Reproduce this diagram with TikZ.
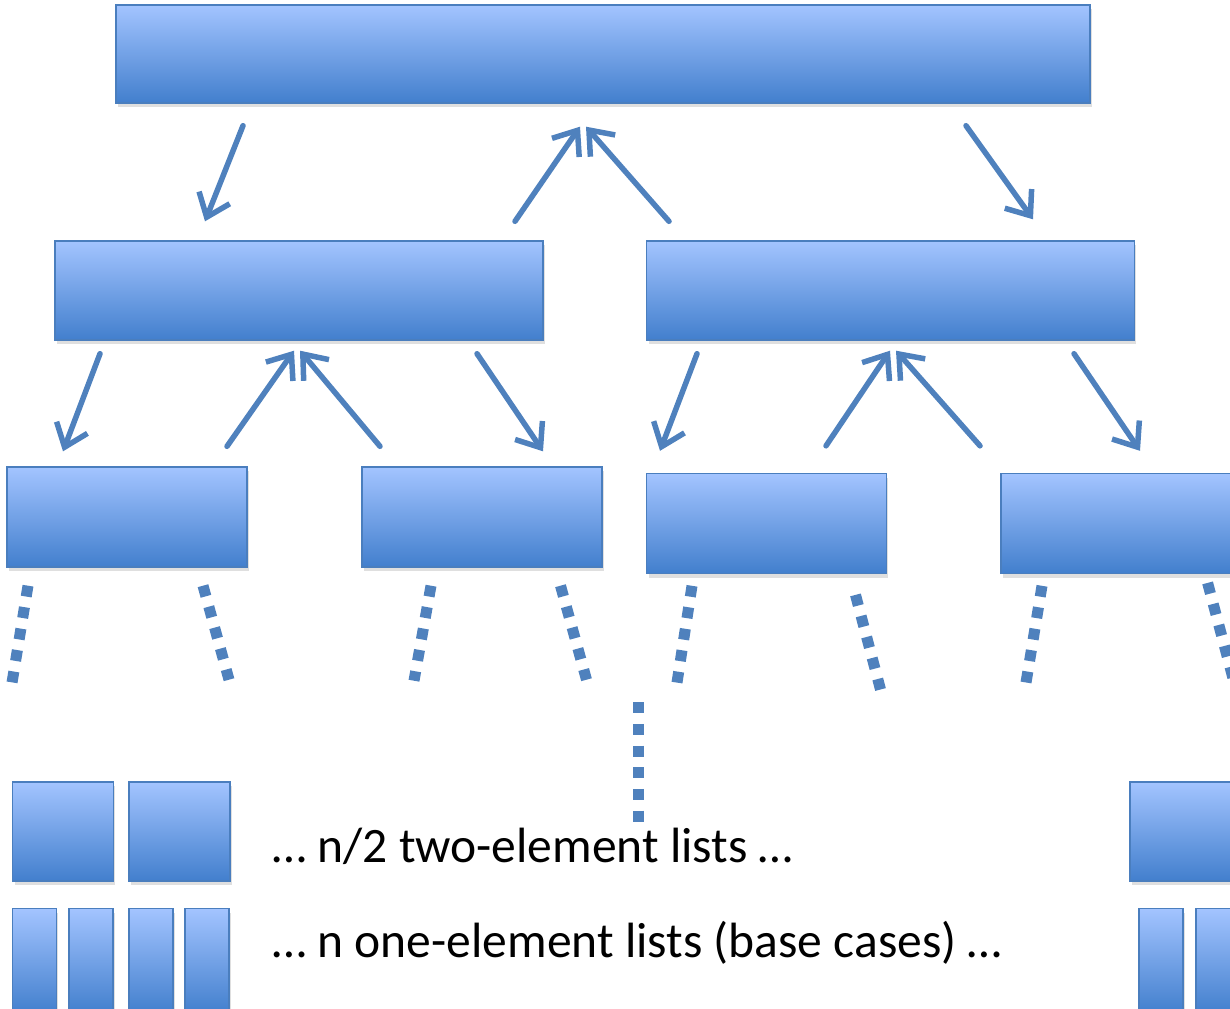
\documentclass[tikz,border=0pt]{standalone}
\usepackage{fontspec}
\setmainfont{Carlito}
\usepackage{tikz}
\usetikzlibrary{arrows.meta,calc,shadows}
\definecolor{boxtop}{RGB}{163,196,255}
\definecolor{boxbot}{RGB}{66,127,205}
\definecolor{boxedge}{RGB}{74,126,190}
\definecolor{arrowblue}{RGB}{79,129,189}

\begin{document}
\begin{tikzpicture}[x=0.02cm, y=-0.02cm, >={Straight Barb[length=0.42cm,width=0.66cm]}]
  \tikzstyle{box}=[draw=boxedge, line width=0.8pt, top color=boxtop, bottom color=boxbot, inner sep=0pt, drop shadow={shadow xshift=0.04cm, shadow yshift=-0.08cm, opacity=0.25}]
  \tikzstyle{arr}=[->, draw=arrowblue, line width=0.11cm, line cap=round]
  \tikzstyle{dots}=[draw=arrowblue, line width=0.22cm, dash pattern=on 0.22cm off 0.215cm]
  \clip (0,0) rectangle (1230,1008);

  % whole list and its two halves
  \node[box, minimum width=19.48cm, minimum height=1.96cm] (top) at (603,54) {};
  \node[box, minimum width=9.76cm, minimum height=1.98cm] (left) at (299,290.5) {};
  \node[box, minimum width=9.76cm, minimum height=1.98cm] (right) at (890.5,290.5) {};

  % quarters
  \node[box, minimum width=4.8cm, minimum height=2cm] (ll) at (127,517) {};
  \node[box, minimum width=4.8cm, minimum height=2cm] (lr) at (482,517) {};
  \node[box, minimum width=4.8cm, minimum height=2cm] (rl) at (766.5,523.5) {};
  \node[box, minimum width=4.8cm, minimum height=2cm] (rr) at (1121,523.5) {};

  % base level
  \foreach \x [count=\i] in {63,179.5,1180.5}
    \node[box, minimum width=2.02cm, minimum height=1.98cm] (two\i) at (\x,831.5) {};
  \foreach \x [count=\i] in {34.5,91,151,207,1161,1218}
    \node[box, minimum width=0.88cm, minimum height=2.1cm] (one\i) at (\x,961) {};

  \node[anchor=base west, font=\fontsize{28.2}{32}\selectfont] (twolabel) at (266,862) {… n/2 two-element lists …};
  \node[anchor=base west, font=\fontsize{28.2}{32}\selectfont] (onelabel) at (266,957) {… n one-element lists (base cases) …};

  % split and merge
  \draw[arr] ($(top.south)+(-360,22)$) -- ($(left.north)+(-94,-19)$);
  \draw[arr] ($(left.north)+(216,-19)$) -- ($(top.south)+(-23,23)$);
  \draw[arr] ($(right.north)+(-221.5,-19)$) -- ($(top.south)+(-17,23)$);
  \draw[arr] ($(top.south)+(363,22)$) -- ($(right.north)+(142.5,-21)$);

  \draw[arr] ($(left.south)+(-199,13)$) -- ($(ll.north)+(-64,-15)$);
  \draw[arr] ($(ll.north)+(100,-20)$) -- ($(left.south)+(-5,10)$);
  \draw[arr] ($(lr.north)+(-102,-20)$) -- ($(left.south)+(1,10)$);
  \draw[arr] ($(left.south)+(178,13)$) -- ($(lr.north)+(61,-15)$);

  \draw[arr] ($(right.south)+(-193.5,13)$) -- ($(rl.north)+(-106.5,-22)$);
  \draw[arr] ($(rl.north)+(59.5,-27)$) -- ($(right.south)+(-0.5,10)$);
  \draw[arr] ($(rr.north)+(-141,-27)$) -- ($(right.south)+(5.5,10)$);
  \draw[arr] ($(right.south)+(183.5,13)$) -- ($(rr.north)+(19,-22)$);

  % further levels
  \draw[dots] ($(ll.south)+(-99,18)$) -- ($(ll.south)+(-115,115)$);
  \draw[dots] ($(ll.south)+(76,18)$) -- ($(ll.south)+(102,112)$);
  \draw[dots] ($(lr.south)+(-51,18)$) -- ($(lr.south)+(-68,113)$);
  \draw[dots] ($(lr.south)+(78.5,18)$) -- ($(lr.south)+(104.5,112)$);
  \draw[dots] ($(rl.south)+(-74.5,11.6)$) -- ($(rl.south)+(-89.5,108.4)$);
  \draw[dots] ($(rl.south)+(89,20.7)$) -- ($(rl.south)+(114,115.3)$);
  \draw[dots] ($(rr.south)+(-79,11.6)$) -- ($(rr.south)+(-95,108.4)$);
  \draw[dots] ($(rr.south)+(86.6,8.7)$) -- ($(rr.south)+(112,104)$);
  \coordinate (gaptop) at (638,702);
  \coordinate (gapend) at (638,822);
  \draw[dots] (gaptop) -- (gapend);
\end{tikzpicture}
\end{document}
